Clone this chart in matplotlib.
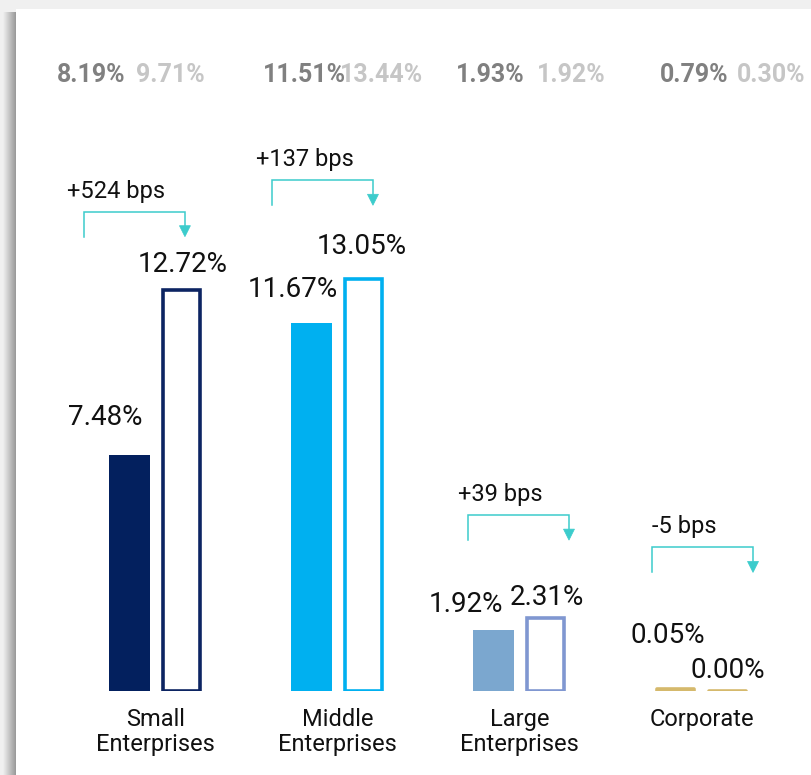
import numpy as np
import matplotlib
matplotlib.use("Agg")
import matplotlib.pyplot as plt
from matplotlib.patches import Rectangle, Polygon

plt.rcParams["font.family"] = ["Roboto", "DejaVu Sans"]

# ------------------- #
# Data

categories = ["Small\nEnterprises", "Middle\nEnterprises", "Large\nEnterprises", "Corporate"]
prev_values = [7.48, 11.67, 1.92, 0.05]
curr_values = [12.72, 13.05, 2.31, 0.00]
change_labels = ["+524 bps", "+137 bps", "+39 bps", "-5 bps"]
header_a = ["8.19%", "11.51%", "1.93%", "0.79%"]
header_b = ["9.71%", "13.44%", "1.92%", "0.30%"]

fill_colors = ["#03205e", "#00b0f0", "#7ba7cf", "#d5b96c"]
edge_colors = ["#0c2462", "#00b0f0", "#8097d1", "#d5b96c"]
teal = "#3ccccc"

# label offsets in px: (dx, baseline above bar top)
prev_lbl_off = [(-24, 30), (-19, 26), (-28, 18), (-8, 46)]
curr_lbl_off = [(1, 18), (-2, 25), (1, 13), (0, 13)]
# brackets in px: left edge from group centre, height above taller bar
bracket_left = [-71.5, -65.5, -51.5, -49.5]
bracket_rise = [78, 99, 103, 142]
header_x = [(57, 136), (263, 340), (456, 537), (660, 737)]

W, H = 812, 775
fig = plt.figure(figsize=(W / 100, H / 100), dpi=100, facecolor="#f0f0f0")

# white card with soft shadow on the left
fig.patches.append(Rectangle((16 / W, 0), (W - 16) / W, (H - 9) / H,
                             transform=fig.transFigure, facecolor="white",
                             edgecolor="none", zorder=-10))
shade = fig.add_axes([3 / W, 0, 13 / W, (H - 12) / H], zorder=-5)
grad = np.linspace(0.94, 0.6, 40)
shade.imshow(np.tile(grad, (10, 1)), cmap="gray", vmin=0, vmax=1, aspect="auto")
shade.axis("off")

ax = fig.add_axes([16 / W, 84 / H, (W - 16) / W, 682 / H])
ax.patch.set_alpha(0)
ax.set_xlim(-0.766, 3.607)
ax.set_ylim(0, 682 / 31.55)

x = np.arange(len(categories))
off, bw = 0.143, 0.224
ax.bar(x[:3] - off, prev_values[:3], width=bw, color=fill_colors[:3], linewidth=0)
ax.bar(x[:3] + off, curr_values[:3], width=bw - 0.02, color="white",
       edgecolor=edge_colors[:3], linewidth=2.6)
# corporate values are ~0, show them as thin rounded strokes
ax.bar([x[3] - off, x[3] + off], [prev_values[3], curr_values[3]], width=bw - 0.02,
       color=fill_colors[3], edgecolor=fill_colors[3], linewidth=2.6,
       joinstyle="round", capstyle="round")

bb = ax.get_window_extent()
sx = bb.width / (ax.get_xlim()[1] - ax.get_xlim()[0])
sy = bb.height / (ax.get_ylim()[1] - ax.get_ylim()[0])

for i in range(len(categories)):
    for xv, v, (dx, dy) in [(x[i] - off, prev_values[i], prev_lbl_off[i]),
                            (x[i] + off, curr_values[i], curr_lbl_off[i])]:
        ax.annotate(f"{v:.2f}%", xy=(xv, v), xytext=(dx, dy),
                    textcoords="offset pixels", ha="center", va="baseline",
                    fontsize=20, color="#111111")

    # bracket arrow
    top = max(prev_values[i], curr_values[i]) + bracket_rise[i] / sy
    bot = top - 25 / sy
    x0 = x[i] + bracket_left[i] / sx
    x1 = x0 + 101 / sx
    ah, aw = 11 / sy, 5.5 / sx
    ax.plot([x0, x0, x1, x1], [bot, top, top, bot + ah], color=teal, lw=1.1,
            solid_joinstyle="miter")
    ax.add_patch(Polygon([[x1 - aw, bot + ah], [x1 + aw, bot + ah], [x1, bot]],
                         closed=True, facecolor=teal, edgecolor=teal, lw=0.5))
    ax.annotate(change_labels[i], xy=((x0 + x1) / 2, top), xytext=(-18, 14),
                textcoords="offset pixels", ha="center", va="baseline",
                fontsize=17, color="#111111")

    # header figures
    fig.text(header_x[i][0] / W, 1 - 82 / H, header_a[i], fontsize=18,
             fontweight="bold", color="#808080", va="baseline")
    fig.text(header_x[i][1] / W, 1 - 82 / H, header_b[i], fontsize=18,
             fontweight="bold", color="#c6c6c6", va="baseline")

ax.set_xticks(x, categories, fontsize=17, linespacing=1.15, color="#111111")
ax.set_yticks([])
ax.tick_params(axis="x", length=0, pad=12)
for s in ax.spines.values():
    s.set_visible(False)

fig.savefig("out.png", dpi=100, facecolor=fig.get_facecolor())
